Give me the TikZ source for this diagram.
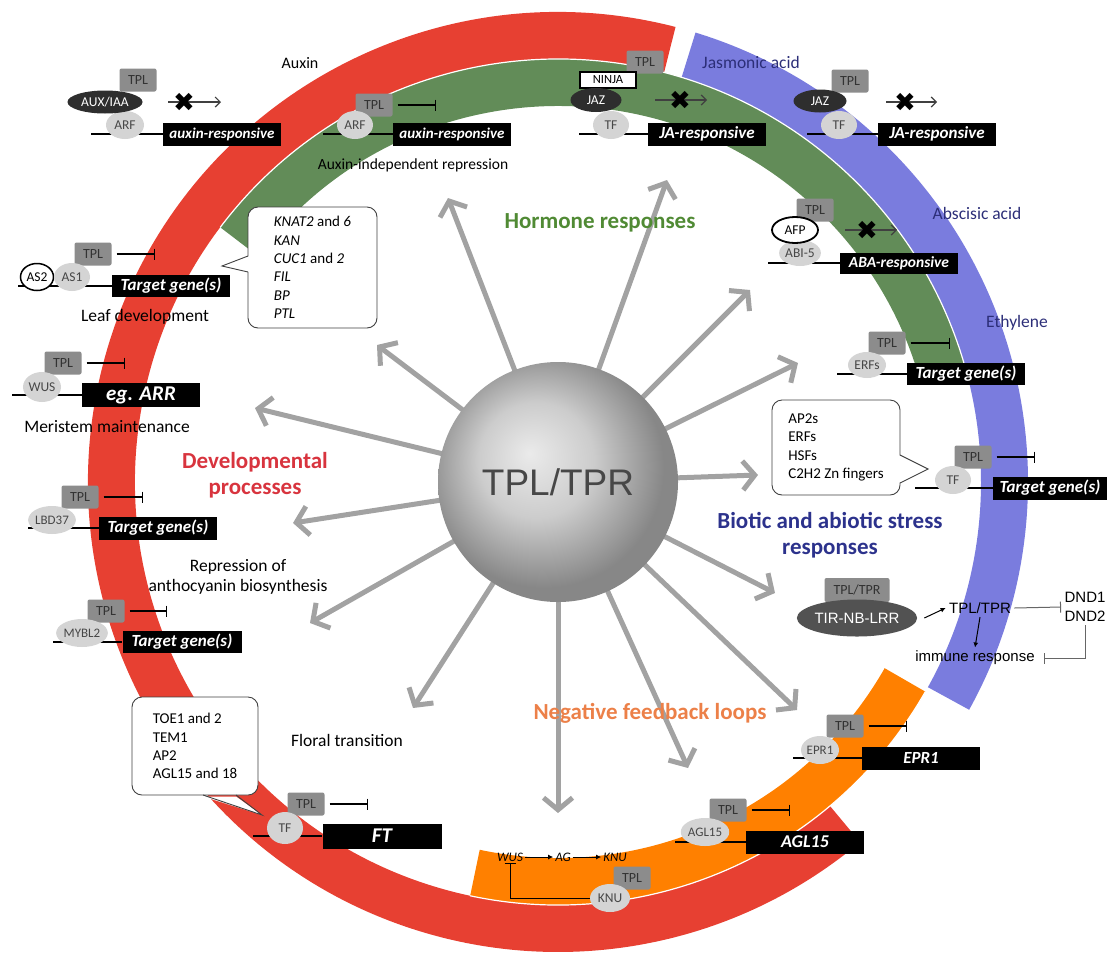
\documentclass[tikz,border=0pt]{standalone}
\usepackage{fontspec}
\setmainfont{Carlito}
\newfontfamily\lsfont{Liberation Sans}
\newfontfamily\dvsfont{DejaVu Sans}
\usetikzlibrary{arrows.meta,shapes.geometric}
\definecolor{ringred}{RGB}{231,64,50}
\definecolor{ringgreen}{RGB}{98,140,88}
\definecolor{ringblue}{RGB}{122,124,222}
\definecolor{ringorange}{RGB}{255,128,0}
\definecolor{spokegray}{RGB}{162,162,162}
\definecolor{tplgray}{RGB}{140,140,140}
\definecolor{tfgray}{RGB}{212,212,212}
\definecolor{hormgreen}{RGB}{80,138,52}
\definecolor{devred}{RGB}{216,52,62}
\definecolor{bioblue}{RGB}{44,50,140}
\definecolor{negorange}{RGB}{236,128,72}
\definecolor{hormnavy}{RGB}{44,46,120}
\pgfdeclareradialshading{sphereshade}{\pgfpoint{-6bp}{6bp}}{color(0bp)=(black!8); color(12bp)=(black!20); color(25bp)=(black!47); color(50bp)=(black!47)}

\begin{document}
\begin{tikzpicture}[x=1pt,y=-1pt,
  tplbox/.style={rectangle,rounded corners=2pt,fill=tplgray,text=black!80,minimum width=37pt,minimum height=23pt,inner sep=0pt,font=\fontsize{14}{14}\selectfont},
  tf/.style={ellipse,fill=tfgray,text=black!72,minimum width=36pt,minimum height=28pt,inner sep=0pt,font=\fontsize{13.5}{13.5}\selectfont},
  darkell/.style={ellipse,fill=black!82,text=white,inner sep=0pt,font=\fontsize{13.5}{13.5}\selectfont},
  outlined/.style={ellipse,draw=black,line width=1.8pt,fill=white,inner sep=0pt,font=\fontsize{13.5}{13.5}\selectfont},
  gene/.style={rectangle,fill=black,text=white,minimum width=118pt,minimum height=23pt,inner sep=0pt,font=\bfseries\itshape\fontsize{#1}{#1}\selectfont},
  gene/.default=17,
  dna/.style={line width=1.2pt},
  repress/.style={line width=1.2pt,-{Bar[width=11pt]}},
  blocked/.style={line width=1.2pt,black!75,-{Straight Barb[length=5pt,width=10pt]}},
  blockx/.style={inner sep=0pt,font=\dvsfont\fontsize{26}{26}\selectfont},
  lbl/.style={font=\fontsize{17.5}{20}\selectfont,align=center},
  heading/.style={font=\bfseries\fontsize{23}{26}\selectfont,align=center},
  bubble/.style={rectangle,rounded corners=10pt,draw=black!75,line width=0.9pt,fill=white,align=left,font=\fontsize{15}{18.3}\selectfont},
  tail/.style={draw=black!75,line width=0.9pt},
  spoke/.style={draw=spokegray,line width=5pt,-{Straight Barb[length=12pt,width=29pt]}},
  sanslbl/.style={font=\lsfont\fontsize{15}{19}\selectfont,align=center}
]
\useasboundingbox (0,0) rectangle (1110,956);
\coordinate (ctr) at (558,482);

\begin{scope}[shift={(ctr)}]
\draw[ringred,line width=47pt] (-75.5:446.5) arc[start angle=-75.5,end angle=-310,radius=446.5];
\draw[ringblue,line width=47pt] (-73:446.5) arc[start angle=-73,end angle=29,radius=446.5];
\draw[ringgreen,line width=47pt] (-143:399.5) arc[start angle=-143,end angle=-15,radius=399.5];
\draw[ringorange,line width=47pt] (102:399.5) arc[start angle=102,end angle=29.7,radius=399.5];
\draw[white,line width=1.2pt] (-143:423) arc[start angle=-143,end angle=-15,radius=423];
\draw[white,line width=1.2pt] (102:423) arc[start angle=102,end angle=29.7,radius=423];
\end{scope}

\foreach \tx/\ty [count=\k] in {448/198,667/180,750/290,798/363,758/475,775/593,797/710,688/768,558/813,413/708,310/623,293/523,255/408,377/345}{
  \coordinate (tip\k) at (\tx,\ty);
  \draw[spoke] (ctr) -- (tip\k);
}
\node[circle,minimum size=240pt,inner sep=0pt,shading=sphereshade,text=black!72,font=\lsfont\fontsize{37}{37}\selectfont] (core) at (ctr) {TPL/TPR};

\node[heading,text=hormgreen] (hormone) at (600,223) {Hormone responses};
\node[heading,text=devred] (devel) at (255,475) {Developmental\\processes};
\node[heading,text=bioblue] (biotic) at (830,535) {Biotic and abiotic stress\\responses};
\node[heading,text=negorange] (negfb) at (650,713) {Negative feedback loops};

\node[tplbox] (tpl1) at (138,80) {TPL};
\node[gene=15] (gen1) at (222,134) {auxin-responsive};
\coordinate (dna1) at (91,134);
\draw[dna] (dna1) -- (gen1.west);
\node[tf,minimum width=38pt] (arf1) at (125,125) {ARF};
\node[darkell,minimum width=75pt,minimum height=23pt] (aux1) at (105,102) {AUX/IAA};
\coordinate (blk1a) at (168,102);
\coordinate (blk1b) at (221,102);
\draw[blocked] (blk1a) -- (blk1b);
\node[blockx] (x1) at (184,102) {✖};
\node[lbl,font=\fontsize{16}{16}\selectfont] (auxin) at (300,63) {Auxin};

\node[tplbox] (tpl2) at (374,105) {TPL};
\coordinate (rep2) at (436,105);
\draw[repress] ([xshift=5pt]tpl2.east) -- (rep2);
\node[gene=15] (gen2) at (452,134) {auxin-responsive};
\coordinate (dna2) at (323,134);
\draw[dna] (dna2) -- (gen2.west);
\node[tf] (arf2) at (355,125) {ARF};
\node[lbl,font=\fontsize{15.5}{16}\selectfont] (auxind) at (413,165) {Auxin-independent repression};

\node[gene] (gen3) at (707,134) {JA-responsive};
\coordinate (dna3) at (579,134);
\draw[dna] (dna3) -- (gen3.west);
\node[tf] (tf3) at (611,125) {TF};
\node[tplbox] (tpl3) at (645,62) {TPL};
\node[rectangle,draw=black,line width=1.5pt,fill=white,minimum width=56pt,minimum height=16pt,inner sep=0pt,font=\fontsize{12.5}{12.5}\selectfont] (ninja) at (608,80) {NINJA};
\node[darkell,minimum width=51pt,minimum height=24pt] (jaz3) at (596,100) {JAZ};
\coordinate (blk3a) at (655,100);
\coordinate (blk3b) at (707,100);
\draw[blocked] (blk3a) -- (blk3b);
\node[blockx] (x3) at (680,100) {✖};

\node[lbl,text=hormnavy] (jasmonic) at (751,62) {Jasmonic acid};
\node[gene] (gen4) at (937,134) {JA-responsive};
\coordinate (dna4) at (807,134);
\draw[dna] (dna4) -- (gen4.west);
\node[tf] (tf4) at (839,125) {TF};
\node[tplbox] (tpl4) at (850,81) {TPL};
\node[darkell,minimum width=53pt,minimum height=23pt] (jaz4) at (820,101) {JAZ};
\coordinate (blk4a) at (886,102);
\coordinate (blk4b) at (937,102);
\draw[blocked] (blk4a) -- (blk4b);
\node[blockx] (x4) at (905,102) {✖};

\node[lbl,text=hormnavy] (abscisic) at (977,213) {Abscisic acid};
\node[gene=15.5,minimum height=21pt] (gen10) at (899,263) {ABA-responsive};
\coordinate (dna10) at (768,263);
\draw[dna] (dna10) -- (gen10.west);
\node[tplbox] (tpl10) at (815,210) {TPL};
\node[tf,minimum width=40pt,minimum height=26pt] (abi) at (800,253) {ABI-5};
\node[outlined,minimum width=46pt,minimum height=26pt] (afp) at (795,230) {AFP};
\coordinate (blk10a) at (845,230);
\coordinate (blk10b) at (897,230);
\draw[blocked] (blk10a) -- (blk10b);
\node[blockx] (x10) at (867,230) {✖};

\node[lbl,text=hormnavy] (ethylene) at (1017,323) {Ethylene};
\node[tplbox] (tpl11) at (887,343) {TPL};
\coordinate (rep11) at (950,343);
\draw[repress] ([xshift=5pt]tpl11.east) -- (rep11);
\node[gene,minimum height=22pt] (gen11) at (966,374) {Target gene(s)};
\coordinate (dna11) at (837,374);
\draw[dna] (dna11) -- (gen11.west);
\node[tf,minimum width=38pt,minimum height=26pt] (erfs) at (867,365) {ERFs};

\coordinate (ap2a) at (900,455);
\coordinate (ap2t) at (928,469);
\coordinate (ap2b) at (900,483);
\node[bubble,minimum width=128pt,minimum height=95pt] (ap2) at (836,447.5) {AP2s\\ERFs\\HSFs\\C2H2 Zn fingers};
\fill[white] ([xshift=-1.5pt]ap2a) -- (ap2t) -- ([xshift=-1.5pt]ap2b) -- cycle;
\draw[tail] (ap2a) -- (ap2t) -- (ap2b);

\node[tplbox] (tpl12) at (973,457) {TPL};
\coordinate (rep12) at (1035,457);
\draw[repress] ([xshift=5pt]tpl12.east) -- (rep12);
\node[gene,minimum width=114pt] (gen12) at (1050,488) {Target gene(s)};
\coordinate (dna12) at (915,488);
\draw[dna] (dna12) -- (gen12.west);
\node[tf] (tf12) at (953,480) {TF};

\node[tplbox,minimum width=65pt,minimum height=24pt] (tprbox) at (857,590) {TPL/TPR};
\node[ellipse,fill=black!68,text=white,minimum width=90pt,minimum height=37pt,inner sep=0pt,font=\lsfont\fontsize{15}{15}\selectfont] (tir) at (857,618) {TIR-NB-LRR};
\node[sanslbl] (tplfree) at (980,608) {TPL/TPR};
\node[sanslbl] (dnd) at (1085,607) {DND1\\DND2};
\node[sanslbl] (immune) at (975,658) {immune response};
\draw[line width=1pt,-{Latex[length=5pt,width=5pt]}] ([xshift=7pt]tir.east) -- (tplfree.west);
\draw[repress,black!60,line width=1pt] (tplfree.east) -- (dnd.west);
\draw[line width=1pt,-{Latex[length=5pt,width=5pt]}] (tplfree.south) -- (immune.north);
\draw[repress,black!60,line width=1pt] (dnd.south) |- ([xshift=6pt]immune.east);

\node[tplbox] (tpl13) at (845,726) {TPL};
\coordinate (rep13) at (907,726);
\draw[repress] ([xshift=5pt]tpl13.east) -- (rep13);
\node[gene] (gen13) at (921,758) {EPR1};
\coordinate (dna13) at (793,758);
\draw[dna] (dna13) -- (gen13.west);
\node[tf,minimum width=38pt,font=\fontsize{13}{13}\selectfont] (epr) at (820,750) {EPR1};

\node[tplbox] (tpl14) at (728,810) {TPL};
\coordinate (rep14) at (790,810);
\draw[repress] ([xshift=5pt]tpl14.east) -- (rep14);
\node[gene=18] (gen14) at (805,842) {AGL15};
\coordinate (dna14) at (675,842);
\draw[dna] (dna14) -- (gen14.west);
\node[tf,minimum width=40pt,font=\fontsize{13}{13}\selectfont] (agl) at (705,832) {AGL15};

\node[font=\itshape\fontsize{13}{13}\selectfont,inner sep=2pt] (wusg) at (510,857) {WUS};
\node[font=\itshape\fontsize{13}{13}\selectfont,inner sep=2pt] (agg) at (563,857) {AG};
\node[font=\itshape\fontsize{13}{13}\selectfont,inner sep=2pt] (knug) at (615,857) {KNU};
\draw[line width=0.8pt,-{Latex[length=5pt,width=5pt]}] (wusg) -- (agg);
\draw[line width=0.8pt,-{Latex[length=5pt,width=5pt]}] (agg) -- (knug);
\node[tplbox] (tpl15) at (632,878) {TPL};
\node[tf,minimum width=40pt] (knu) at (610,898) {KNU};
\draw[repress,line width=1pt] (knu.west) -| (wusg.south);

\node[tplbox] (tpl9) at (306,804) {TPL};
\coordinate (rep9) at (368,804);
\draw[repress] ([xshift=5pt]tpl9.east) -- (rep9);
\node[gene=21,minimum width=119pt,minimum height=25pt] (gen9) at (382,836) {FT};
\coordinate (dna9) at (253,836);
\draw[dna] (dna9) -- (gen9.west);
\node[tf,minimum height=32pt] (tf9) at (285,828) {TF};
\node[lbl] (floral) at (347,740) {Floral transition};
\coordinate (toea) at (203,795);
\coordinate (toet) at (262,815);
\coordinate (toeb) at (236,795);
\node[bubble,minimum width=126pt,minimum height=98pt] (toe) at (195,746) {TOE1 and 2\\TEM1\\AP2\\AGL15 and 18};
\fill[white] ([yshift=-1.5pt]toea) -- (toet) -- ([yshift=-1.5pt]toeb) -- cycle;
\draw[tail] (toea) -- (toet) -- (toeb);

\node[tplbox] (tpl5) at (93,254) {TPL};
\coordinate (rep5) at (155,254);
\draw[repress] ([xshift=5pt]tpl5.east) -- (rep5);
\node[gene,minimum height=22pt] (gen5) at (171,286) {Target gene(s)};
\coordinate (dna5) at (18,286);
\draw[dna] (dna5) -- (gen5.west);
\node[outlined,minimum width=33pt,minimum height=27pt,line width=1.5pt] (as2) at (37,277) {AS2};
\node[tf] (as1) at (72,277) {AS1};
\node[lbl] (leaf) at (145,317) {Leaf development};

\coordinate (knata) at (248,256);
\coordinate (knatt) at (222,266);
\coordinate (knatb) at (248,272);
\node[bubble,minimum width=129pt,minimum height=121pt] (knat) at (312.5,267.5) {\textit{KNAT2} and \textit{6}\\\textit{KAN}\\\textit{CUC1} and \textit{2}\\\textit{FIL}\\\textit{BP}\\\textit{PTL}};
\fill[white] ([xshift=1.5pt]knata) -- (knatt) -- ([xshift=1.5pt]knatb) -- cycle;
\draw[tail] (knata) -- (knatt) -- (knatb);

\node[tplbox] (tpl6) at (63,363) {TPL};
\coordinate (rep6) at (125,363);
\draw[repress] ([xshift=5pt]tpl6.east) -- (rep6);
\node[gene=21,minimum height=24pt] (gen6) at (141,395) {eg. ARR};
\coordinate (dna6) at (12,395);
\draw[dna] (dna6) -- (gen6.west);
\node[tf,minimum height=30pt] (wus6) at (42,387) {WUS};
\node[lbl] (meri) at (107,427) {Meristem maintenance};

\node[tplbox] (tpl7) at (80,497) {TPL};
\coordinate (rep7) at (143,497);
\draw[repress] ([xshift=5pt]tpl7.east) -- (rep7);
\node[gene] (gen7) at (158,528) {Target gene(s)};
\coordinate (dna7) at (28,528);
\draw[dna] (dna7) -- (gen7.west);
\node[tf,minimum width=42pt,font=\fontsize{13}{13}\selectfont] (lbd) at (52,520) {LBD37};
\node[lbl] (antho) at (238,577) {Repression of\\anthocyanin biosynthesis};

\node[tplbox] (tpl8) at (106,611) {TPL};
\coordinate (rep8) at (167,611);
\draw[repress] ([xshift=5pt]tpl8.east) -- (rep8);
\node[gene,minimum width=119pt,minimum height=22pt] (gen8) at (182,642) {Target gene(s)};
\coordinate (dna8) at (53,642);
\draw[dna] (dna8) -- (gen8.west);
\node[tf,minimum width=44pt,font=\fontsize{13}{13}\selectfont] (mybl) at (82,633) {MYBL2};
\end{tikzpicture}
\end{document}
